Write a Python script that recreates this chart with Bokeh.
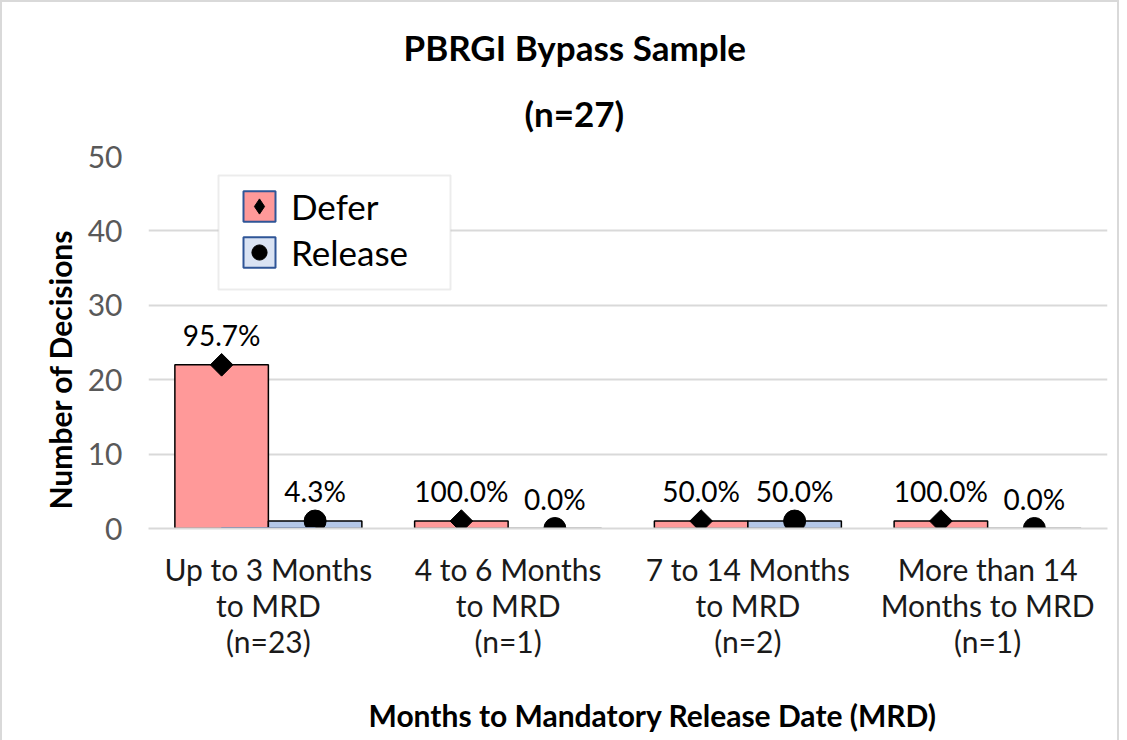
from bokeh.plotting import figure
from bokeh.models import ColumnDataSource, FactorRange, LabelSet, Legend, LegendItem, BoxAnnotation, Title
from bokeh.core.properties import value
from bokeh.transform import dodge
from bokeh.embed import file_html
from bokeh.resources import INLINE

categories = ["Up to 3 Months\nto MRD\n(n=23)", "4 to 6 Months\nto MRD\n(n=1)",
              "7 to 14 Months\nto MRD\n(n=2)", "More than 14\nMonths to MRD\n(n=1)"]
defer = [22, 1, 1, 1]
release = [1, 0, 1, 0]
defer_pct = ["95.7%", "100.0%", "50.0%", "100.0%"]
release_pct = ["4.3%", "0.0%", "50.0%", "0.0%"]
y_ticks = [0, 10, 20, 30, 40, 50]
series = ["Defer", "Release"]
title_lines = ["PBRGI Bypass Sample", "(n=27)"]
x_title = "Months to Mandatory Release Date (MRD)"
y_title = "Number of Decisions"

FONT = "Lato"
DEFER_C = "#ff9999"
REL_C = "#b4c7e7"

src = ColumnDataSource(dict(cat=categories, defer=defer, release=release,
                            dp=defer_pct, rp=release_pct))

p = figure(frame_width=959, frame_height=372, x_range=FactorRange(factors=categories),
           y_range=(0, 50), output_backend="svg", toolbar_location=None,
           min_border_left=146, min_border_right=10, min_border_top=10, min_border_bottom=201)
p.styles = {"border": "2px solid #d9d9d9"}
p.outline_line_color = None
p.background_fill_color = "white"

bw = 0.39
off = 0.195
p.vbar(x=dodge("cat", -off, range=p.x_range), top="defer", width=bw, source=src,
       fill_color=DEFER_C, line_color="black", line_width=1.5)
p.vbar(x=dodge("cat", off, range=p.x_range), top="release", width=bw, source=src,
       fill_color=REL_C, line_color="black", line_width=1.5)
sd = p.scatter(x=dodge("cat", -off, range=p.x_range), y="defer", source=src,
               marker="square", angle=0.785398, size=16, color="black")
sr = p.scatter(x=dodge("cat", off, range=p.x_range), y="release", source=src,
               marker="circle", size=22, color="black")

for col, ycol, o in (("dp", "defer", -off), ("rp", "release", off)):
    p.add_layout(LabelSet(x=dodge("cat", o, range=p.x_range), y=ycol, text=col, source=src,
                          text_align="center", text_baseline="middle", y_offset=30,
                          text_font=value(FONT), text_font_size="28px", text_color="black"))

# legend box
p.add_layout(BoxAnnotation(left=70, right=302, top=353, bottom=239,
                           left_units="screen", right_units="screen",
                           top_units="screen", bottom_units="screen",
                           fill_color="white", fill_alpha=1,
                           line_color="#bfbfbf", line_width=2))
# legend swatches (clipped out of view, used only for the legend)
ld = p.vbar(x=[categories[0]], top=[-10], bottom=[-10], width=bw,
            fill_color=DEFER_C, line_color="#2f5597", line_width=2)
lr = p.vbar(x=[categories[0]], top=[-10], bottom=[-10], width=bw,
            fill_color="#dae3f3", line_color="#2f5597", line_width=2)
lm = p.scatter(x=[categories[0]], y=[-10], marker="diamond", size=16, color="black")
legend = Legend(items=[LegendItem(label=series[0], renderers=[ld, lm]),
                       LegendItem(label=series[1], renderers=[lr, sr])],
                location=(91, 255), glyph_width=40, glyph_height=38, label_height=38,
                spacing=4, padding=0, margin=0, label_standoff=12,
                label_text_font=FONT, label_text_font_size="35px", label_text_color="black",
                border_line_color=None, background_fill_alpha=0)
p.add_layout(legend)

# titles (nearest the frame first), then a small spacer at the very top
p.add_layout(Title(text=title_lines[1], align="left", offset=376, standoff=45,
                   text_font=FONT, text_font_size="35px", text_font_style="bold",
                   text_line_height=1.0, text_color="black"), "above")
p.add_layout(Title(text=title_lines[0], align="left", offset=255, standoff=0,
                   text_font=FONT, text_font_size="35px", text_font_style="bold",
                   text_line_height=1.0, text_color="black"), "above")
p.add_layout(Title(text=" ", align="left", standoff=18, text_font_size="1px",
                   text_line_height=1.0), "above")

p.xgrid.grid_line_color = None
p.ygrid.grid_line_color = "#d9d9d9"
p.ygrid.grid_line_width = 2
p.yaxis.ticker = y_ticks
p.yaxis.axis_line_color = None
p.yaxis.major_tick_line_color = None
p.yaxis.minor_tick_line_color = None
p.yaxis.major_label_text_font = FONT
p.yaxis.major_label_text_font_size = "30px"
p.yaxis.major_label_text_color = "#595959"
p.yaxis.major_label_standoff = 20

p.xaxis.axis_line_color = "#d9d9d9"
p.xaxis.axis_line_width = 2
p.xaxis.major_tick_line_color = None
p.xaxis.major_label_text_font = FONT
p.xaxis.major_label_text_font_size = "30px"
p.xaxis.major_label_text_line_height = 1.0
p.xaxis.major_label_text_color = "#1a1a1a"
p.xaxis.major_label_standoff = 16

p.add_layout(Title(text=y_title, align="left", offset=19, standoff=14,
                   text_font=FONT, text_font_size="30px", text_font_style="bold",
                   text_color="black"), "left")
p.add_layout(Title(text=x_title, align="left", offset=220, standoff=66,
                   text_font=FONT, text_font_size="30px", text_font_style="bold",
                   text_line_height=1.0, text_color="black"), "below")

open("out.html", "w").write(file_html(p, INLINE))
